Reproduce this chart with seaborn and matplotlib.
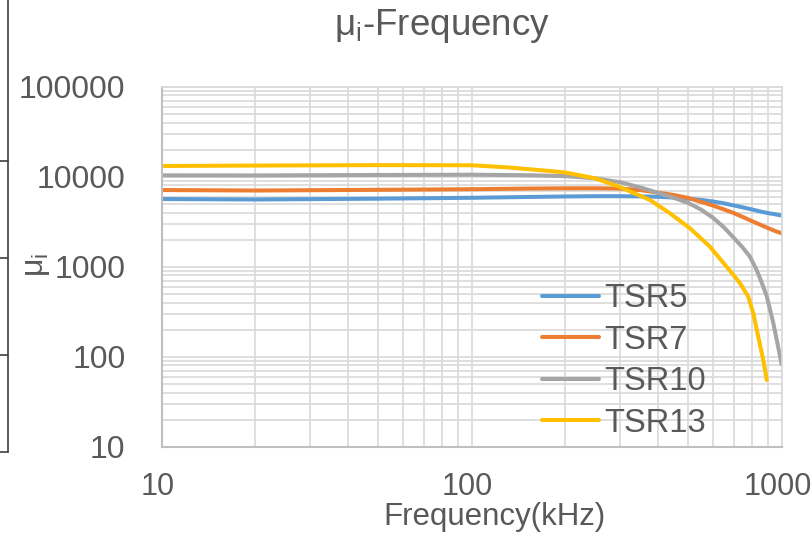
import matplotlib
matplotlib.use("Agg")
import matplotlib.pyplot as plt
from matplotlib.lines import Line2D
from matplotlib.transforms import ScaledTranslation
from matplotlib.ticker import LogLocator, FixedLocator, FixedFormatter, NullFormatter
import seaborn as sns
import pandas as pd

# values (frequency in kHz, initial permeability)
freq_tsr5 = [10, 20, 50, 100, 150, 200, 250, 300, 350, 400, 450, 500, 550, 600, 650, 700, 750, 800, 850, 900, 950, 1000]
mu_tsr5 = [5650, 5580, 5700, 5830, 5950, 6030, 6070, 6070, 6040, 5980, 5860, 5700, 5520, 5300, 5060, 4800, 4560, 4330, 4120, 3950, 3830, 3700]

freq_tsr7 = [10, 20, 50, 100, 150, 200, 250, 300, 350, 400, 450, 500, 550, 600, 650, 700, 750, 800, 850, 900, 950, 1000]
mu_tsr7 = [7110, 7020, 7150, 7260, 7380, 7430, 7440, 7380, 7100, 6650, 6250, 5800, 5250, 4780, 4340, 3950, 3560, 3220, 2940, 2700, 2500, 2350]

freq_tsr10 = [10, 20, 50, 100, 150, 200, 250, 300, 350, 400, 450, 500, 550, 600, 650, 700, 750, 790, 830, 860, 895, 940, 1000]
mu_tsr10 = [10360, 10330, 10450, 10520, 10400, 10150, 9600, 8700, 7600, 6600, 5800, 5100, 4300, 3500, 2750, 2100, 1620, 1290, 920, 680, 470, 235, 82]

freq_tsr13 = [10, 20, 50, 100, 130, 165, 200, 250, 300, 376, 436, 506, 587, 664, 734, 780, 810, 840, 872, 895]
mu_tsr13 = [13150, 13300, 13450, 13400, 12700, 11850, 11150, 9600, 7700, 5510, 3920, 2670, 1667, 1000, 655, 464, 303, 167, 92, 55]

series_names = ["TSR5", "TSR7", "TSR10", "TSR13"]
colors = ["#5B9BD5", "#ED7D31", "#A5A5A5", "#FFC000"]

frames = []
for name, f, m in zip(series_names,
                      [freq_tsr5, freq_tsr7, freq_tsr10, freq_tsr13],
                      [mu_tsr5, mu_tsr7, mu_tsr10, mu_tsr13]):
    frames.append(pd.DataFrame({"freq": f, "mu": m, "series": name}))
df = pd.concat(frames, ignore_index=True)

sns.set_style("white")
plt.rcParams["font.family"] = ["Liberation Sans", "DejaVu Sans"]
plt.rcParams["mathtext.fontset"] = "custom"
plt.rcParams["mathtext.rm"] = "Liberation Sans"

text_color = "#595959"
grid_color = "#D9D9D9"

fig = plt.figure(figsize=(8.12, 5.34), dpi=100)
ax = fig.add_axes([161.7 / 812, 1 - 446.7 / 534, 620 / 812, 360 / 534])

sns.lineplot(data=df, x="freq", y="mu", hue="series", hue_order=series_names,
             palette=dict(zip(series_names, colors)), estimator=None, sort=True,
             linewidth=2.9, ax=ax)

ax.set_xscale("log")
ax.set_yscale("log")
ax.set_xlim(10, 1000)
ax.set_ylim(10, 100000)

ax.xaxis.set_major_locator(FixedLocator([10, 100, 1000]))
ax.xaxis.set_major_formatter(FixedFormatter(["10", "100", "1000"]))
ax.yaxis.set_major_locator(FixedLocator([10, 100, 1000, 10000, 100000]))
ax.yaxis.set_major_formatter(FixedFormatter(["10", "100", "1000", "10000", "100000"]))
ax.xaxis.set_minor_locator(LogLocator(base=10, subs=range(2, 10)))
ax.yaxis.set_minor_locator(LogLocator(base=10, subs=range(2, 10)))
ax.xaxis.set_minor_formatter(NullFormatter())
ax.yaxis.set_minor_formatter(NullFormatter())

ax.grid(True, which="both", color=grid_color, linewidth=1.2)
ax.set_axisbelow(True)
ax.tick_params(axis="both", which="both", length=0, labelcolor=text_color)
ax.tick_params(axis="y", labelsize=23, pad=26)
ax.tick_params(axis="x", labelsize=22, pad=18)
for lab in ax.get_xticklabels():
    lab.set_transform(lab.get_transform() + ScaledTranslation(-4 / 100, 0, fig.dpi_scale_trans))

for side in ["top", "right"]:
    ax.spines[side].set_color(grid_color)
    ax.spines[side].set_linewidth(1.2)
for side in ["left", "bottom"]:
    ax.spines[side].set_color("#BFBFBF")
    ax.spines[side].set_linewidth(1.5)

ax.set_xlabel("")
ax.set_ylabel("")

fig.text(442 / 812, 1 - 26 / 534, r"μ$_\mathregular{i}$-Frequency", ha="center", va="center",
         fontsize=26.5, color=text_color)
fig.text(495 / 812, 1 - 517 / 534, "Frequency(kHz)", ha="center", va="center",
         fontsize=22.5, color=text_color)
fig.text(37 / 812, 1 - 265 / 534, r"μ$_\mathregular{i}$", ha="center", va="center",
         rotation=90, fontsize=23, color=text_color)

leg = ax.legend(loc="center left", bbox_to_anchor=(542 / 812, 1 - 361 / 534),
                bbox_transform=fig.transFigure, frameon=False, fontsize=23.5,
                handlelength=1.75, handletextpad=0.15, labelspacing=0.32,
                borderpad=0, borderaxespad=0)
for t in leg.get_texts():
    t.set_color(text_color)

# leftover edge of a neighbouring chart at the left border
fig.add_artist(Line2D([8.3 / 812, 8.3 / 812], [1, 1 - 452 / 534], transform=fig.transFigure,
                      color="#404040", linewidth=1.2))
for yy in [161, 258, 355, 452]:
    fig.add_artist(Line2D([0, 8.3 / 812], [1 - yy / 534, 1 - yy / 534], transform=fig.transFigure,
                          color="#404040", linewidth=1.2))

fig.savefig("out.png", dpi=100)
plt.close(fig)
